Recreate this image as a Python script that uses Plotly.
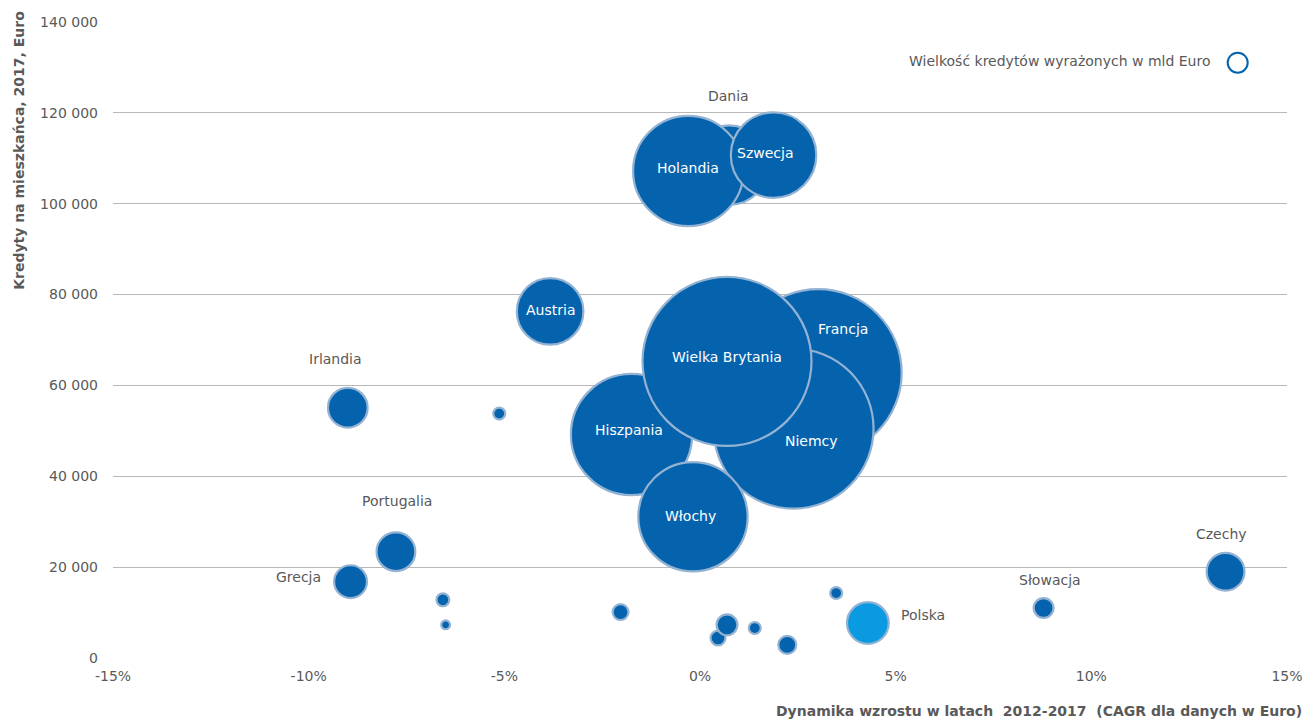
import plotly.graph_objects as go

# Data
COUNTRIES = [
    "Dania", "Holandia", "Szwecja", "Francja", "Niemcy", "Hiszpania", "Włochy",
    "Wielka Brytania", "Austria", "Irlandia", "Portugalia", "Grecja",
    "Polska", "Słowacja", "Czechy",
    "", "", "", "", "", "", "", "", "",
]
CAGR = [
    0.74, -0.30, 1.88, 3.02, 2.39, -1.75, -0.18,
    0.69, -3.83, -9.00, -7.77, -8.93,
    4.29, 8.78, 13.43,
    -5.13, -6.57, -6.50, -2.03, 0.46, 0.69, 1.40, 2.23, 3.48,
]
LOANS_PER_CAPITA = [
    108500, 107200, 110700, 62800, 50500, 49200, 31100,
    65300, 76300, 55100, 23400, 16800,
    7700, 11000, 19000,
    53800, 12800, 7300, 10100, 4400, 7300, 6600, 2900, 14300,
]
LOANS_BN = [
    886, 1705, 1024, 3906, 3587, 2060, 1675,
    4000, 621, 221, 210, 151,
    244, 55, 200,
    20, 23, 11, 35, 31, 61, 20, 45, 20,
]

X_TICKS = [-15, -10, -5, 0, 5, 10, 15]
X_TICK_TEXT = ["-15%", "-10%", "-5%", "0%", "5%", "10%", "15%"]
Y_TICKS = [0, 20000, 40000, 60000, 80000, 100000, 120000, 140000]

# label styling: inside labels white, outside grey; pixel offsets from bubble centre
INSIDE = {"Holandia", "Szwecja", "Austria", "Francja", "Wielka Brytania",
          "Niemcy", "Hiszpania", "Włochy"}
LABEL_OFFSETS = {
    "Holandia": (0, 3), "Szwecja": (-9, 2), "Austria": (0, 1), "Francja": (25, 44),
    "Wielka Brytania": (0, 4), "Niemcy": (18, -12), "Hiszpania": (-3, 4),
    "Włochy": (-2, 1), "Dania": (0, 69), "Irlandia": (-12, 49),
    "Portugalia": (1, 51), "Grecja": (-52, 5), "Polska": (55, 8),
    "Słowacja": (6, 28), "Czechy": (-4, 38),
}

BLUE = "#0563AE"
LIGHT_BLUE = "#0A9AE2"
GREY_TEXT = "#595959"
FONT = "DejaVu Sans"
FS = 14

colors = [LIGHT_BLUE if c == "Polska" else BLUE for c in COUNTRIES]
max_d = 169
sizeref = 4 * max(LOANS_BN) / (2 * max_d ** 2)

fig = go.Figure()
fig.add_trace(go.Scatter(
    x=CAGR,
    y=LOANS_PER_CAPITA,
    mode="markers",
    marker=dict(
        size=LOANS_BN,
        sizemode="area",
        sizeref=sizeref,
        color=colors,
        opacity=1,
        line=dict(color="#94B3D3", width=2.2),
    ),
    hovertext=COUNTRIES,
    showlegend=False,
))

for name, x, y in zip(COUNTRIES, CAGR, LOANS_PER_CAPITA):
    if not name:
        continue
    dx, dy = LABEL_OFFSETS.get(name, (0, 0))
    fig.add_annotation(
        x=x, y=y, text=name, showarrow=False,
        xshift=dx, yshift=dy,
        font=dict(family=FONT, size=FS,
                  color="white" if name in INSIDE else GREY_TEXT),
    )

# bubble-size legend
fig.add_annotation(
    x=0.937, y=0.939, xref="paper", yref="paper", xanchor="right", yanchor="middle",
    text="Wielkość kredytów wyrażonych w mld Euro", showarrow=False,
    font=dict(family=FONT, size=FS, color=GREY_TEXT),
)
fig.add_shape(
    type="circle", xref="paper", yref="paper",
    xsizemode="pixel", ysizemode="pixel",
    xanchor=0.958, yanchor=0.936, x0=-10, x1=10, y0=-10, y1=10,
    line=dict(color=BLUE, width=2), fillcolor="white",
)

# axis titles
fig.add_annotation(
    x=-0.080, y=1.02, xref="paper", yref="paper", xanchor="center", yanchor="top",
    text="<b>Kredyty na mieszkańca, 2017, Euro</b>", textangle=-90, showarrow=False,
    font=dict(family=FONT, size=FS, color=GREY_TEXT),
)
fig.add_annotation(
    x=1.0145, y=-0.083, xref="paper", yref="paper", xanchor="right", yanchor="middle",
    text="<b>Dynamika wzrostu w latach\u00a0 2012-2017\u00a0 (CAGR dla danych w Euro)</b>",
    showarrow=False,
    font=dict(family=FONT, size=FS, color=GREY_TEXT),
)

fig.update_layout(
    width=1315, height=720,
    margin=dict(l=113, r=22, t=22, b=62),
    plot_bgcolor="white", paper_bgcolor="white",
    separators=". ",
    font=dict(family=FONT, size=FS, color=GREY_TEXT),
)
fig.update_xaxes(
    range=[-15, 15], tickvals=X_TICKS, ticktext=X_TICK_TEXT,
    showgrid=False, zeroline=False, showline=False, ticks="",
    ticklabelstandoff=8,
    tickfont=dict(family=FONT, size=FS, color=GREY_TEXT),
)
fig.update_yaxes(
    range=[0, 140000], tickvals=Y_TICKS, tickformat=",d",
    showgrid=True, gridcolor="#B8B8B8", gridwidth=1.4,
    zeroline=False, showline=False, ticks="",
    ticklabelstandoff=14,
    tickfont=dict(family=FONT, size=FS, color=GREY_TEXT),
)

fig.write_html(
    "out.html", config={"displayModeBar": False},
    post_script="document.body.style.margin='0';document.body.style.overflow='hidden';",
)
